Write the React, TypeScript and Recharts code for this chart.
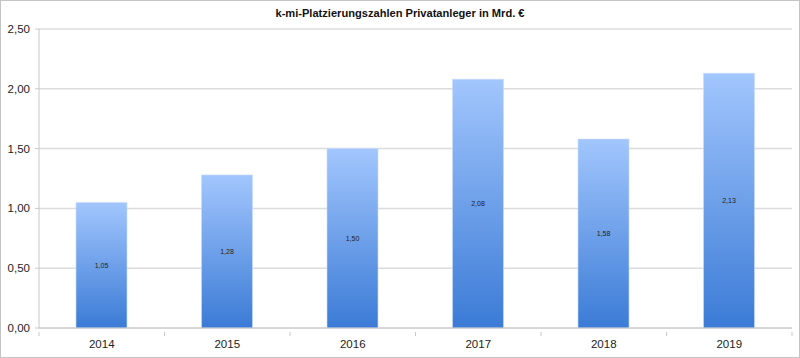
import { BarChart, Bar, XAxis, YAxis, CartesianGrid, LabelList } from "recharts"

// Platzierungszahlen je Jahr (Mrd. €)
const years = ["2014", "2015", "2016", "2017", "2018", "2019"]
const values = [1.05, 1.28, 1.5, 2.08, 1.58, 2.13]
const yTicks = [0, 0.5, 1, 1.5, 2, 2.5]

const data = years.map((year, i) => ({ year, value: values[i] }))

const de = (v: number) => v.toFixed(2).replace(".", ",")

const AXIS = "#c8c8c8"

// x-Ticks sitzen auf den Kategoriegrenzen, nicht in der Mitte
function YearTick(props: any) {
  const { x, y, payload, index, visibleTicksCount } = props
  const off = payload?.offset ?? 0
  const last = index === visibleTicksCount - 1
  return (
    <g>
      <line x1={x - off} x2={x - off} y1={y - 4} y2={y} stroke={AXIS} />
      {last && <line x1={x + off} x2={x + off} y1={y - 4} y2={y} stroke={AXIS} />}
      <text x={x} y={y + 12} textAnchor="middle" fontSize={11.5} fill="#222">
        {payload.value}
      </text>
    </g>
  )
}

export default function App() {
  return (
    <div
      style={{
        position: "fixed",
        left: 0,
        top: 0,
        width: 800,
        height: 358,
        boxSizing: "border-box",
        border: "1px solid #c4c4c4",
        background: "#fff",
        fontFamily: "'Liberation Sans', Arial, sans-serif",
      }}
    >
      <div
        style={{
          position: "absolute",
          left: 0,
          top: 6,
          width: 798,
          textAlign: "center",
          fontSize: 11.1,
          fontWeight: "bold",
          color: "#111",
        }}
      >
        k-mi-Platzierungszahlen Privatanleger in Mrd. €
      </div>
      <div style={{ position: "absolute", left: -1, top: -1 }}>
        <BarChart
          width={800}
          height={358}
          data={data}
          margin={{ top: 29, right: 8, bottom: 8, left: 0 }}
          barSize={51}
        >
          <defs>
            <linearGradient id="barFill" x1="0" y1="0" x2="0" y2="1">
              <stop offset="0%" stopColor="#a2c6fd" />
              <stop offset="100%" stopColor="#3b7bd6" />
            </linearGradient>
          </defs>
          <CartesianGrid vertical={false} stroke="#dcdcdc" strokeWidth={1.5} />
          <XAxis
            dataKey="year"
            height={22}
            axisLine={{ stroke: AXIS }}
            tickLine={false}
            tick={<YearTick />}
            interval={0}
          />
          <YAxis
            width={39}
            domain={[0, 2.5]}
            ticks={yTicks}
            tickFormatter={de}
            axisLine={{ stroke: AXIS }}
            tickLine={{ stroke: AXIS }}
            tickSize={4}
            tickMargin={5}
            tick={{ fontSize: 11.5, fill: "#222" }}
          />
          <Bar
            dataKey="value"
            fill="url(#barFill)"
            stroke="#c9dcfb"
            strokeWidth={0.6}
            isAnimationActive={false}
          >
            <LabelList
              dataKey="value"
              position="center"
              formatter={(v: any) => de(Number(v))}
              style={{ fontSize: 7, fill: "#222" }}
            />
          </Bar>
        </BarChart>
      </div>
    </div>
  )
}
